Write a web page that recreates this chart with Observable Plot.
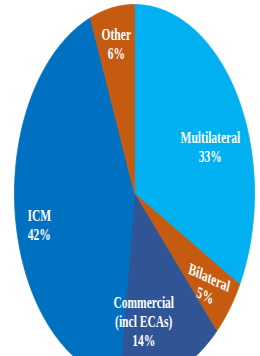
<!DOCTYPE html>
<html>
<head>
<meta charset="utf-8">
<script src="https://cdn.jsdelivr.net/npm/d3@7"></script>
<script src="https://cdn.jsdelivr.net/npm/@observablehq/plot@0.6"></script>
<style>
  html, body { margin: 0; padding: 0; background: #fff; overflow: hidden; }
  #chart { width: 260px; height: 356px; overflow: hidden; }
</style>
</head>
<body>
<div id="chart"></div>
<script>
// ---- data ----
const categories = ["Multilateral", "Bilateral", "Commercial\n(incl ECAs)", "ICM", "Other"];
const shares = [33, 5, 14, 42, 6];
// ---- styles ----
const sliceColors = ["#00B0F0", "#C55A11", "#2F5597", "#0070C0", "#C55A11"];
const labelRadius = [0.68, 0.78, 0.68, 0.81, 0.81];
const labelAngleShift = [9, 1, 11.5, -4.5, 0]; // degrees
const labelRotate = [0, 18, 0, 0, 0];

const arcs = d3.pie().sort(null).value(d => d)(shares);

// slice outlines built from the pie angles
const slicePts = [];
arcs.forEach((a, i) => {
  const n = Math.max(4, Math.ceil((a.endAngle - a.startAngle) / 0.01));
  slicePts.push({k: i, x: 0, y: 0});
  for (let j = 0; j <= n; j++) {
    const t = a.startAngle + (a.endAngle - a.startAngle) * j / n;
    slicePts.push({k: i, x: Math.sin(t), y: Math.cos(t)});
  }
  slicePts.push({k: i, x: 0, y: 0});
});

const labels = arcs.map((a, i) => {
  const m = (a.startAngle + a.endAngle) / 2 + labelAngleShift[i] * Math.PI / 180;
  return {k: i, x: labelRadius[i] * Math.sin(m), y: labelRadius[i] * Math.cos(m),
          text: `${categories[i]}\n${shares[i]}%`};
});

const chart = Plot.plot({
  width: 260,
  height: 356,
  margin: 0,
  x: {type: "linear", domain: [-1, 1], range: [14, 254], axis: null},
  y: {type: "linear", domain: [-1, 1], range: [382, 4], axis: null},
  color: {type: "ordinal", domain: d3.range(categories.length), range: sliceColors},
  marks: [
    Plot.line(slicePts, {x: "x", y: "y", z: "k", fill: "k", stroke: "k", strokeWidth: 0.8, curve: "linear"}),
    Plot.text(labels, {
      x: "x", y: "y", text: "text", fill: "white",
      fontSize: 16.5, fontWeight: "bold", fontFamily: "Liberation Serif",
      lineHeight: 1.15, lineAnchor: "middle", textAnchor: "middle"
    })
  ]
});

// condense label text horizontally (like the reference) and tilt where needed
chart.querySelectorAll('g[aria-label="text"] text').forEach((el, i) => {
  const tr = el.getAttribute("transform") || "";
  const m = tr.match(/translate\(([^,\s]+)[,\s]+([^)]+)\)/);
  let x = 0, y = 0;
  if (m) { x = +m[1]; y = +m[2]; }
  else { x = +(el.getAttribute("x") || 0); y = +(el.getAttribute("y") || 0); el.removeAttribute("x"); el.removeAttribute("y"); }
  el.setAttribute("transform", `translate(${x},${y}) scale(0.7,1) rotate(${labelRotate[i] || 0})`);
});

document.getElementById("chart").appendChild(chart);
</script>
</body>
</html>
